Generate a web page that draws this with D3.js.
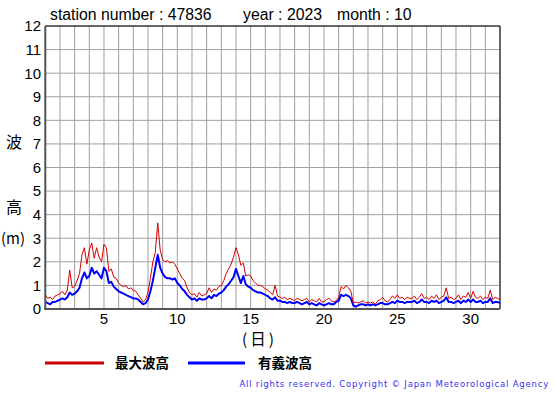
<!DOCTYPE html>
<html>
<head>
<meta charset="utf-8">
<script src="https://cdn.jsdelivr.net/npm/d3@7"></script>
<style>
  body { margin: 0; background: #fff; }
  svg { display: block; }
</style>
</head>
<body>
<div id="chart"></div>
<script>
// 4-hourly values, 6 per day, day 1 00h .. day 32 00h
const maxWave = [
  0.6, 0.45, 0.5, 0.4, 0.55, 0.6,
  0.65, 0.75, 0.6, 0.8, 1.65, 0.9,
  0.95, 1.2, 1.5, 2.3, 2.6, 1.9,
  2.5, 2.8, 2.15, 2.6, 2.2, 2.0,
  2.75, 2.6, 1.6, 1.7, 1.35, 1.3,
  1.1, 1.0, 0.95, 1.0, 0.85, 0.9,
  0.8, 0.75, 0.6, 0.45, 0.3, 0.4,
  0.7, 1.3, 2.0, 2.4, 3.65, 2.5,
  2.1, 2.0, 2.05, 1.95, 2.0, 1.9,
  1.7, 1.5, 1.3, 1.2, 0.9, 0.7,
  0.6, 0.65, 0.5, 0.7, 0.55, 0.6,
  0.65, 0.9, 0.7, 0.85, 0.8, 0.95,
  1.0, 1.2, 1.5, 1.7, 1.9, 2.2,
  2.6, 2.3, 1.85, 1.95, 1.4, 1.45,
  1.4, 1.2, 1.1, 1.0, 1.0, 0.95,
  0.85, 0.8, 0.7, 0.6, 1.0, 0.55,
  0.5, 0.45, 0.5, 0.4, 0.45, 0.4,
  0.35, 0.45, 0.4, 0.35, 0.4, 0.45,
  0.3, 0.4, 0.35, 0.3, 0.45, 0.3,
  0.3, 0.4, 0.45, 0.35, 0.3, 0.35,
  0.5, 0.95, 0.85, 1.0, 0.9, 0.75,
  0.25, 0.3, 0.25, 0.3, 0.35, 0.25,
  0.3, 0.25, 0.3, 0.2, 0.35, 0.4,
  0.5, 0.35, 0.3, 0.4, 0.55, 0.45,
  0.6, 0.45, 0.5, 0.4, 0.5, 0.45,
  0.45, 0.55, 0.4, 0.5, 0.65, 0.45,
  0.5, 0.4, 0.55, 0.45, 0.6, 0.4,
  0.5, 0.55, 0.9, 0.45, 0.5, 0.4,
  0.45, 0.6, 0.4, 0.55, 0.5, 0.7,
  0.45, 0.75, 0.5, 0.45, 0.55, 0.4,
  0.5, 0.45, 0.8, 0.4, 0.5, 0.45,
  0.4
];
const sigWave = [
  0.3, 0.25, 0.2, 0.3, 0.3, 0.35,
  0.4, 0.45, 0.4, 0.5, 0.7, 0.6,
  0.65, 0.75, 0.9, 1.3, 1.55, 1.3,
  1.4, 1.75, 1.5, 1.6, 1.45, 1.3,
  1.75, 1.6, 1.1, 1.15, 0.95, 0.85,
  0.75, 0.7, 0.65, 0.6, 0.55, 0.5,
  0.45, 0.45, 0.4, 0.3, 0.2, 0.25,
  0.4, 0.75, 1.2, 1.75, 2.3, 1.75,
  1.5, 1.35, 1.3, 1.3, 1.25, 1.3,
  1.1, 1.0, 0.85, 0.75, 0.6, 0.5,
  0.4, 0.45, 0.35, 0.45, 0.4, 0.4,
  0.45, 0.55, 0.45, 0.6, 0.55, 0.65,
  0.7, 0.8, 0.95, 1.05, 1.2, 1.35,
  1.7, 1.4, 1.1, 1.4, 1.05, 0.95,
  0.9, 0.8, 0.75, 0.7, 0.7, 0.65,
  0.6, 0.55, 0.45, 0.4, 0.5, 0.35,
  0.35, 0.3, 0.3, 0.25, 0.3, 0.25,
  0.25, 0.3, 0.25, 0.2, 0.25, 0.3,
  0.2, 0.25, 0.2, 0.15, 0.25, 0.2,
  0.15, 0.2, 0.25, 0.2, 0.2, 0.3,
  0.35, 0.6, 0.55, 0.6, 0.55, 0.45,
  0.15, 0.1, 0.15, 0.2, 0.2, 0.15,
  0.2, 0.15, 0.2, 0.15, 0.2, 0.25,
  0.25, 0.2, 0.2, 0.25, 0.3, 0.25,
  0.35, 0.3, 0.3, 0.25, 0.3, 0.3,
  0.3, 0.35, 0.25, 0.3, 0.4, 0.3,
  0.3, 0.25, 0.35, 0.3, 0.35, 0.25,
  0.3, 0.35, 0.5, 0.3, 0.3, 0.25,
  0.3, 0.35, 0.25, 0.35, 0.3, 0.4,
  0.3, 0.4, 0.3, 0.3, 0.35, 0.25,
  0.3, 0.3, 0.45, 0.25, 0.3, 0.3,
  0.25
];
const yTicks = [0, 1, 2, 3, 4, 5, 6, 7, 8, 9, 10, 11, 12];
const xTickLabels = [5, 10, 15, 20, 25, 30];
const gridDays = d3.range(1, 33);
const stepsPerDay = 6;

const W = 555, H = 395;
const plotL = 45.3, plotR = 500, plotT = 26, plotB = 309;

const svg = d3.select("#chart").append("svg")
  .attr("width", W).attr("height", H)
  .style("font-family", "'Liberation Sans', Arial, sans-serif");

const x = d3.scaleLinear().domain([1, 32]).range([plotL, plotR]);
const y = d3.scaleLinear().domain([0, 12]).range([plotB, plotT]);

// grid
svg.append("g").selectAll("line").data(gridDays).enter().append("line")
  .attr("x1", d => x(d)).attr("x2", d => x(d))
  .attr("y1", plotT).attr("y2", plotB)
  .attr("stroke", "#a0a0a0").attr("stroke-width", 1);
svg.append("g").selectAll("line").data(yTicks).enter().append("line")
  .attr("x1", plotL).attr("x2", plotR)
  .attr("y1", d => y(d)).attr("y2", d => y(d))
  .attr("stroke", "#a0a0a0").attr("stroke-width", 1);

// frame
svg.append("line").attr("x1", plotL).attr("x2", plotR).attr("y1", plotT).attr("y2", plotT).attr("stroke", "#000");
svg.append("line").attr("x1", plotR).attr("x2", plotR).attr("y1", plotT).attr("y2", plotB).attr("stroke", "#000");

// series
const line = d3.line()
  .x((d, i) => x(1 + i / stepsPerDay))
  .y(d => y(d));

svg.append("path").datum(sigWave)
  .attr("d", line).attr("fill", "none")
  .attr("stroke", "#0000ff").attr("stroke-width", 2).attr("stroke-linejoin", "round");
svg.append("path").datum(maxWave)
  .attr("d", line).attr("fill", "none")
  .attr("stroke", "#d40000").attr("stroke-width", 1).attr("stroke-linejoin", "round");

// left / bottom axis lines
svg.append("line").attr("x1", plotL).attr("x2", plotL).attr("y1", plotT).attr("y2", plotB + 1)
  .attr("stroke", "#555").attr("stroke-width", 2);
svg.append("line").attr("x1", plotL - 1).attr("x2", plotR).attr("y1", plotB).attr("y2", plotB)
  .attr("stroke", "#555").attr("stroke-width", 2);

// y tick labels
svg.append("g").selectAll("text").data(yTicks).enter().append("text")
  .attr("x", 41).attr("y", d => y(d)).attr("dy", "0.36em")
  .attr("text-anchor", "end").attr("font-size", 15).attr("fill", "#000")
  .text(d => d);

// x tick labels
svg.append("g").selectAll("text").data(xTickLabels).enter().append("text")
  .attr("x", d => x(d)).attr("y", 324)
  .attr("text-anchor", "middle").attr("font-size", 15).attr("fill", "#000")
  .text(d => d);

// title
const title = svg.append("g").attr("font-size", 15.8).attr("fill", "#000");
title.append("text").attr("x", 50).attr("y", 20).text("station number : 47836");
title.append("text").attr("x", 243).attr("y", 20).text("year : 2023");
title.append("text").attr("x", 337).attr("y", 20).text("month : 10");

// axis titles
const cjk = "'Noto Sans CJK JP', 'Noto Sans CJK SC', sans-serif";
svg.append("text").attr("x", 14).attr("y", 148).attr("text-anchor", "middle")
  .attr("font-family", cjk).attr("font-size", 16).text("波");
svg.append("text").attr("x", 14).attr("y", 213).attr("text-anchor", "middle")
  .attr("font-family", cjk).attr("font-size", 16).text("高");
svg.append("text").attr("x", 1).attr("y", 244)
  .attr("font-family", cjk).attr("font-size", 15)
  .attr("textLength", 24).attr("lengthAdjust", "spacing").text("(m)");
svg.append("text").attr("x", 242).attr("y", 345)
  .attr("font-family", cjk).attr("font-size", 15.5)
  .attr("textLength", 32).attr("lengthAdjust", "spacing").text("(日)");

// legend
const legend = [
  { label: "最大波高", color: "#c80000", x1: 45, x2: 104, tx: 115 },
  { label: "有義波高", color: "#0000ff", x1: 188, x2: 245, tx: 258 }
];
const lg = svg.append("g");
legend.forEach(d => {
  lg.append("line").attr("x1", d.x1).attr("x2", d.x2).attr("y1", 363).attr("y2", 363)
    .attr("stroke", d.color).attr("stroke-width", 3);
  lg.append("text").attr("x", d.tx).attr("y", 368)
    .attr("font-family", cjk).attr("font-weight", "bold").attr("font-size", 13.5)
    .text(d.label);
});

// copyright
svg.append("text").attr("x", 549).attr("y", 387).attr("text-anchor", "end")
  .attr("font-family", "'DejaVu Sans', Verdana, sans-serif").attr("font-size", 8.5)
  .attr("letter-spacing", 0.8).attr("fill", "#3333ee")
  .text("All rights reserved. Copyright © Japan Meteorological Agency");
</script>
</body>
</html>
